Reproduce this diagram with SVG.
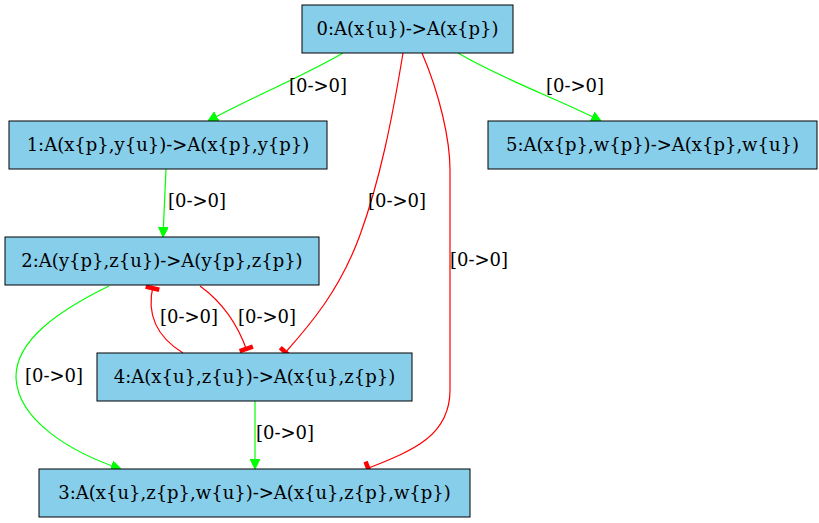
<svg xmlns="http://www.w3.org/2000/svg" width="819" height="523" viewBox="0 0 819 523">
<style>
.node rect{fill:#87ceeb;stroke:#000;stroke-width:1}
text{font-family:"DejaVu Serif",serif;font-size:18px;fill:#000;text-anchor:middle}
.g{fill:none;stroke:#00ff00;stroke-width:1.2}
.r{fill:none;stroke:#ff0000;stroke-width:1.2}
</style>
<defs>
<marker id="arr" viewBox="0 0 10 10" refX="10" refY="5" markerWidth="10" markerHeight="10" markerUnits="userSpaceOnUse" orient="auto">
<path d="M0,0 L10,5 L0,10 Z" fill="#00ff00" stroke="#00ff00"/>
</marker>
<marker id="tee" viewBox="0 0 12 14" refX="9.5" refY="7" markerWidth="12" markerHeight="14" markerUnits="userSpaceOnUse" orient="auto" overflow="visible">
<rect x="5" y="0" width="4.5" height="14" fill="#ff0000"/>
</marker>
</defs>
<rect width="819" height="523" fill="#fff"/>
<g id="edges">
<path class="g" d="M343,53 C300,78 250,98 208,121" marker-end="url(#arr)"/>
<text x="318" y="92">[0-&gt;0]</text>
<path class="g" d="M458,53 C500,78 560,100 601,121" marker-end="url(#arr)"/>
<text x="575" y="92">[0-&gt;0]</text>
<path class="g" d="M166,169 L163,237" marker-end="url(#arr)"/>
<text x="197" y="207">[0-&gt;0]</text>
<path class="r" d="M403,53 C392,120 380,180 360,235 S310,325 284,354" marker-end="url(#tee)"/>
<text x="397" y="207">[0-&gt;0]</text>
<path class="r" d="M422,53 C440,95 450,140 450,170 L450,390 C450,435 415,450 366,469" marker-end="url(#tee)"/>
<text x="479" y="266">[0-&gt;0]</text>
<path class="r" d="M200,286 C222,302 238,325 247,351" marker-end="url(#tee)"/>
<text x="267" y="323">[0-&gt;0]</text>
<path class="r" d="M183,353 C162,340 145,320 153,286" marker-end="url(#tee)"/>
<text x="189" y="323">[0-&gt;0]</text>
<path class="g" d="M109,286 C60,310 15,340 16,378 C18,420 70,452 121,469" marker-end="url(#arr)"/>
<text x="54" y="382">[0-&gt;0]</text>
<path class="g" d="M255,401 L255,469" marker-end="url(#arr)"/>
<text x="285" y="439">[0-&gt;0]</text>
</g>
<g id="node0" class="node"><rect x="302" y="5" width="211" height="48"/><text x="407.5" y="35">0:A(x{u})-&gt;A(x{p})</text></g>
<g id="node1" class="node"><rect x="9" y="121" width="318" height="48"/><text x="168" y="151">1:A(x{p},y{u})-&gt;A(x{p},y{p})</text></g>
<g id="node5" class="node"><rect x="488" y="121" width="329" height="48"/><text x="652.5" y="151">5:A(x{p},w{p})-&gt;A(x{p},w{u})</text></g>
<g id="node2" class="node"><rect x="5" y="237" width="314" height="48"/><text x="162" y="267">2:A(y{p},z{u})-&gt;A(y{p},z{p})</text></g>
<g id="node4" class="node"><rect x="97" y="353" width="315" height="48"/><text x="254.5" y="383">4:A(x{u},z{u})-&gt;A(x{u},z{p})</text></g>
<g id="node3" class="node"><rect x="39" y="469" width="431" height="48"/><text x="254.5" y="499">3:A(x{u},z{p},w{u})-&gt;A(x{u},z{p},w{p})</text></g>
</svg>
